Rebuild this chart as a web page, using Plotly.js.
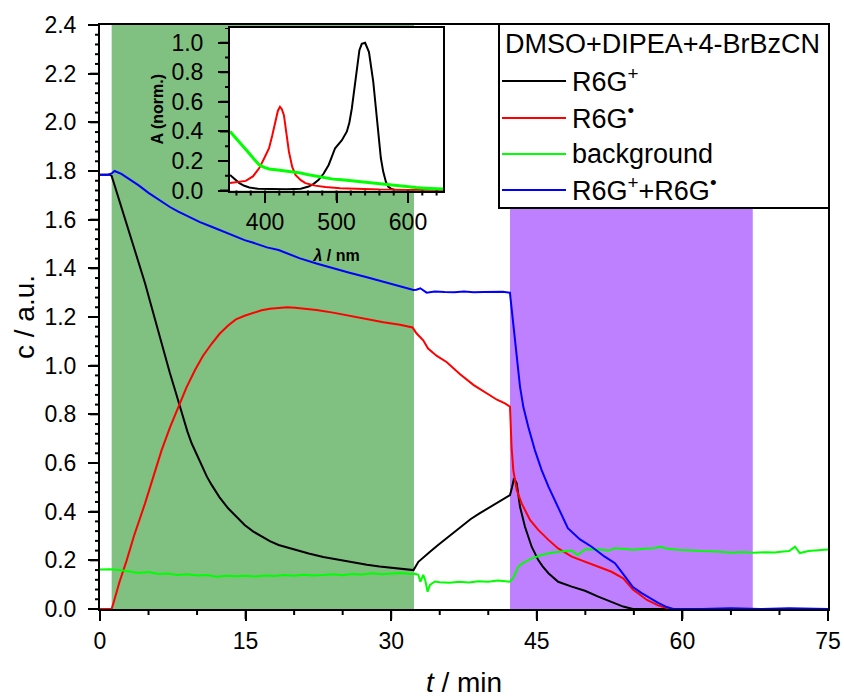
<!DOCTYPE html>
<html>
<head>
<meta charset="utf-8">
<script src="https://cdn.plot.ly/plotly-3.0.1.min.js"></script>
<style>
  html, body { margin: 0; padding: 0; background: #ffffff; }
  #chart { width: 844px; height: 698px; }
</style>
</head>
<body>
<div id="chart"></div>
<script>
// ---------- main kinetic traces: time (min) and concentration (a.u.) ----------
const tCation = [0, 0.5, 1.0, 1.2, 1.55, 2.0, 2.58, 3.1, 3.6, 4.1, 4.64, 5.15, 5.67, 6.2, 6.7, 7.2, 7.73, 8.41, 9.0, 9.44, 10.0, 10.5, 11.0, 11.5, 12.3, 13.2, 14.0, 14.9, 15.8, 16.65, 17.5, 18.4, 19.3, 20.1, 21.5, 23.0, 24.5, 26.0, 27.5, 28.8, 30.0, 31.2, 32.3, 32.8, 33.4, 34.0, 34.8, 35.7, 36.5, 37.4, 38.2, 39.1, 40.0, 40.9, 41.7, 42.24, 42.45, 42.65, 42.93, 43.27, 43.78, 44.47, 45.15, 45.6, 46.2, 47.2, 48.6, 49.96, 51.33, 52.7, 53.9, 54.9, 60, 65, 70, 75];
const cCation = [1.785, 1.785, 1.785, 1.78, 1.736, 1.67, 1.599, 1.54, 1.475, 1.41, 1.339, 1.265, 1.188, 1.11, 1.037, 0.97, 0.90, 0.804, 0.73, 0.681, 0.63, 0.585, 0.545, 0.51, 0.46, 0.414, 0.38, 0.345, 0.318, 0.297, 0.279, 0.263, 0.252, 0.242, 0.228, 0.214, 0.203, 0.193, 0.182, 0.175, 0.170, 0.165, 0.160, 0.194, 0.216, 0.235, 0.262, 0.29, 0.318, 0.345, 0.37, 0.393, 0.414, 0.434, 0.455, 0.468, 0.50, 0.537, 0.517, 0.42, 0.338, 0.256, 0.201, 0.175, 0.147, 0.112, 0.092, 0.075, 0.051, 0.030, 0.010, 0, 0, 0, 0, 0];

const tRadical = [0, 1.2, 1.5, 2.0, 2.75, 3.5, 4.64, 5.5, 6.35, 7.2, 8.07, 8.9, 9.79, 10.6, 11.5, 12.3, 13.2, 14.0, 14.9, 15.8, 16.65, 17.5, 18.4, 19.3, 20.1, 21.2, 22.3, 24.0, 25.75, 27.5, 29.2, 30.9, 32.2, 32.6, 33.3, 33.8, 34.7, 35.7, 37.1, 38.5, 39.7, 40.9, 41.72, 42.24, 42.4, 42.58, 42.93, 43.44, 44.3, 45.15, 46.2, 47.2, 48.6, 49.96, 51.33, 52.7, 53.9, 54.9, 56.35, 57.5, 58.4, 59.2, 65, 70, 75];
const cRadical = [0, 0, 0.04, 0.11, 0.20, 0.30, 0.434, 0.545, 0.653, 0.745, 0.831, 0.91, 0.982, 1.04, 1.09, 1.13, 1.165, 1.19, 1.205, 1.218, 1.228, 1.234, 1.238, 1.24, 1.238, 1.235, 1.229, 1.218, 1.204, 1.19, 1.178, 1.168, 1.157, 1.133, 1.104, 1.07, 1.04, 1.015, 0.965, 0.92, 0.89, 0.86, 0.845, 0.831, 0.667, 0.571, 0.489, 0.434, 0.366, 0.325, 0.284, 0.249, 0.215, 0.194, 0.174, 0.153, 0.126, 0.08, 0.037, 0.015, 0.004, 0, 0, 0, 0];

const tBackground = [0, 1, 2, 3, 4, 5, 6, 7, 8, 9, 10, 11, 12, 13, 14, 15, 16, 17, 18, 19, 20, 21, 22, 23, 24, 25, 26, 27, 28, 29, 30, 31, 32, 32.5, 32.8, 33.0, 33.3, 33.5, 33.75, 34.0, 34.5, 35, 36, 37, 38, 39, 40, 41, 42, 42.24, 42.6, 43.1, 43.6, 44.47, 45.5, 46.5, 47.56, 48.6, 49.2, 49.96, 51.33, 52.4, 53.05, 54.1, 55, 56, 57, 57.7, 58.5, 59.5, 60.1, 61, 62, 63.5, 64.5, 65.2, 66, 67.3, 68.5, 69.5, 70.4, 71, 71.6, 72.1, 73, 74, 75];
const cBackground = [0.162, 0.163, 0.16, 0.155, 0.148, 0.152, 0.144, 0.146, 0.14, 0.143, 0.138, 0.14, 0.133, 0.137, 0.135, 0.137, 0.134, 0.138, 0.136, 0.14, 0.137, 0.141, 0.138, 0.14, 0.143, 0.139, 0.144, 0.142, 0.147, 0.143, 0.146, 0.148, 0.144, 0.145, 0.14, 0.112, 0.14, 0.12, 0.071, 0.099, 0.113, 0.11, 0.108, 0.112, 0.109, 0.114, 0.112, 0.117, 0.113, 0.112, 0.13, 0.174, 0.19, 0.208, 0.222, 0.231, 0.236, 0.24, 0.222, 0.245, 0.246, 0.24, 0.25, 0.246, 0.244, 0.248, 0.25, 0.256, 0.248, 0.244, 0.242, 0.24, 0.238, 0.236, 0.232, 0.231, 0.234, 0.231, 0.233, 0.232, 0.236, 0.238, 0.256, 0.23, 0.238, 0.24, 0.245];

const tSum = [0, 0.8, 1.2, 1.5, 2.2, 3.0, 3.95, 5.0, 6.35, 7.2, 8.07, 9.0, 9.79, 10.3, 11.5, 12.5, 13.7, 14.9, 15.8, 17.2, 18.4, 19.3, 20.6, 22.3, 24.0, 25.7, 27.5, 29.2, 30.9, 32.3, 32.6, 33.0, 33.65, 34.5, 35.5, 36.5, 37.5, 38.5, 39.5, 40.5, 41.5, 42.23, 42.58, 42.93, 43.27, 43.61, 44.12, 44.8, 45.5, 46.2, 47.2, 48.2, 49.45, 50.65, 52.0, 53.05, 54.1, 54.9, 55.8, 56.65, 57.5, 58.4, 59.0, 62, 65, 68, 71, 75];
const cSum = [1.785, 1.785, 1.79, 1.80, 1.788, 1.768, 1.742, 1.71, 1.674, 1.652, 1.633, 1.615, 1.599, 1.59, 1.571, 1.555, 1.537, 1.516, 1.505, 1.486, 1.475, 1.462, 1.441, 1.42, 1.40, 1.382, 1.363, 1.345, 1.327, 1.311, 1.312, 1.318, 1.30, 1.305, 1.303, 1.302, 1.305, 1.302, 1.303, 1.302, 1.304, 1.30, 1.174, 1.037, 0.914, 0.831, 0.749, 0.653, 0.571, 0.503, 0.42, 0.332, 0.286, 0.256, 0.215, 0.188, 0.133, 0.09, 0.065, 0.045, 0.025, 0.008, 0, 0, 0.003, 0, 0.003, 0];

// irradiation periods (min)
const greenPeriod = [1.2, 32.35];
const purplePeriod = [42.24, 67.25];

// ---------- inset spectra: wavelength (nm) and normalised absorbance ----------
const lamCation = [351, 358, 364, 371, 378, 390, 410, 430, 450, 461, 468, 475, 482, 489, 498, 507.5, 514.5, 518, 521.4, 525, 528.4, 532, 535.3, 540, 545.4, 551.4, 555, 558.3, 562, 565.3, 569, 572.2, 577, 581, 590, 610, 649];
const absCation = [0.105, 0.075, 0.05, 0.032, 0.02, 0.012, 0.008, 0.008, 0.012, 0.027, 0.045, 0.072, 0.115, 0.173, 0.286, 0.34, 0.40, 0.46, 0.555, 0.70, 0.847, 0.95, 0.993, 1.0, 0.937, 0.735, 0.56, 0.375, 0.22, 0.128, 0.06, 0.027, 0.01, 0.005, 0.002, 0, 0];

const lamRadical = [351, 360, 373, 383, 391.7, 398, 405.6, 410, 414.9, 418, 420.9, 423.5, 426.4, 430, 433.4, 438, 442.6, 450, 456.5, 470, 484.3, 505, 530.5, 560, 600, 649];
const absRadical = [0.05, 0.055, 0.065, 0.095, 0.15, 0.21, 0.286, 0.37, 0.465, 0.54, 0.566, 0.55, 0.51, 0.39, 0.263, 0.16, 0.106, 0.07, 0.05, 0.033, 0.023, 0.015, 0.01, 0.006, 0.004, 0.003];

const lamBackground = [351, 357, 364, 371, 378, 385, 392, 398, 405.6, 415, 425, 438, 450, 461, 472, 484, 495, 507.5, 519, 530.5, 542, 553.6, 565, 577, 588, 600, 611, 623, 634, 646, 649];
const absBackground = [0.40, 0.365, 0.33, 0.29, 0.25, 0.21, 0.173, 0.158, 0.146, 0.14, 0.135, 0.128, 0.118, 0.106, 0.095, 0.083, 0.077, 0.072, 0.066, 0.061, 0.055, 0.05, 0.042, 0.034, 0.03, 0.027, 0.02, 0.016, 0.012, 0.01, 0.01];

const seriesNames = ['R6G<sup>+</sup>', 'R6G<sup>•</sup>', 'background', 'R6G<sup>+</sup>+R6G<sup>•</sup>'];
const seriesColors = ['#000000', '#ff0000', '#00ff00', '#0000ff'];
const legendTitle = 'DMSO+DIPEA+4-BrBzCN';

const FONT = 'Liberation Sans, Arial, Helvetica, sans-serif';

// plot area in page pixels
const PL = 100, PR = 828, PT = 25, PB = 609;
const PW = PR - PL, PH = PB - PT;
const px = v => (v - PL) / PW;
const py = v => (PB - v) / PH;
const INSET_X = [0.1786, 0.4712], INSET_Y = [0.7166, 0.9949];
const INSET_W = (INSET_X[1] - INSET_X[0]) * PW, INSET_H = (INSET_Y[1] - INSET_Y[0]) * PH;

const mainX = [tCation, tRadical, tBackground, tSum];
const mainY = [cCation, cRadical, cBackground, cSum];
const traces = [];
for (let i = 0; i < 4; i++) {
  traces.push({
    x: mainX[i], y: mainY[i], type: 'scatter', mode: 'lines',
    name: seriesNames[i], showlegend: false, line: {color: seriesColors[i], width: 2},
    xaxis: 'x', yaxis: 'y', hoverinfo: 'skip'
  });
}
const insetX = [lamCation, lamRadical, lamBackground];
const insetY = [absCation, absRadical, absBackground];
for (let i = 0; i < 3; i++) {
  traces.push({
    x: insetX[i], y: insetY[i], type: 'scatter', mode: 'lines',
    showlegend: false, line: {color: seriesColors[i], width: i === 2 ? 3 : 2},
    xaxis: 'x2', yaxis: 'y2', hoverinfo: 'skip'
  });
}

const axisCommon = {
  showline: true, linecolor: '#000', linewidth: 2, mirror: true,
  showgrid: false, zeroline: false,
  ticks: 'outside', ticklen: 10, tickwidth: 2, tickcolor: '#000',
  tickfont: {family: FONT, size: 23, color: '#000'}
};

const shapes = [
  {type: 'rect', xref: 'x', yref: 'y', x0: greenPeriod[0], x1: greenPeriod[1], y0: 0, y1: 2.4,
   fillcolor: '#80c080', line: {width: 0}, layer: 'below'},
  {type: 'rect', xref: 'x', yref: 'y', x0: purplePeriod[0], x1: purplePeriod[1], y0: 0, y1: 2.4,
   fillcolor: '#bf80ff', line: {width: 0}, layer: 'below'}
];

// tick marks (major and minor), laid along the axes through their own scales
const isMajor = (v, majorStep) => Math.abs(v / majorStep - Math.round(v / majorStep)) < 1e-6;
function xTicks(xref, yref, from, to, step, majorStep, lenMinor, lenMajor, heightPx) {
  const n = Math.round((to - from) / step);
  for (let i = 0; i <= n; i++) {
    const v = +(from + i * step).toFixed(6);
    const len = isMajor(v, majorStep) ? lenMajor : lenMinor;
    shapes.push({type: 'line', xref: xref, yref: yref + ' domain', x0: v, x1: v, y0: 0, y1: -len / heightPx,
      line: {color: '#000', width: 2}, layer: 'above'});
  }
}
function yTicks(xref, yref, from, to, step, majorStep, lenMinor, lenMajor, widthPx) {
  const n = Math.round((to - from) / step);
  for (let i = 0; i <= n; i++) {
    const v = +(from + i * step).toFixed(6);
    const len = isMajor(v, majorStep) ? lenMajor : lenMinor;
    shapes.push({type: 'line', xref: xref + ' domain', yref: yref, x0: 0, x1: -len / widthPx, y0: v, y1: v,
      line: {color: '#000', width: 2}, layer: 'above'});
  }
}
xTicks('x', 'y', 0, 75, 5, 15, 6, 10, PH);
yTicks('x', 'y', 0, 2.4, 0.04, 0.2, 5, 10, PW);
xTicks('x2', 'y2', 360, 640, 20, 100, 5, 10, INSET_H);
yTicks('x2', 'y2', 0, 1.1, 0.1, 0.2, 5, 10, INSET_W);

// legend (drawn by hand to match the long line samples of the original)
const legendRows = [81, 118, 154, 190];
shapes.push({type: 'rect', xref: 'paper', yref: 'paper', x0: px(499), x1: px(829), y0: py(208), y1: py(24),
  fillcolor: '#ffffff', line: {color: '#000', width: 2}, layer: 'above'});
const annotations = [
  {xref: 'paper', yref: 'paper', x: px(503), y: py(44), xanchor: 'left', yanchor: 'middle',
   text: legendTitle, showarrow: false, font: {family: FONT, size: 27, color: '#000'}}
];
for (let i = 0; i < 4; i++) {
  shapes.push({type: 'line', xref: 'paper', yref: 'paper', x0: px(502), x1: px(566),
    y0: py(legendRows[i]), y1: py(legendRows[i]), line: {color: seriesColors[i], width: 2}, layer: 'above'});
  annotations.push({xref: 'paper', yref: 'paper', x: px(570), y: py(legendRows[i] + (i === 2 ? 0 : -1)),
    xanchor: 'left', yanchor: 'middle', text: seriesNames[i], showarrow: false,
    font: {family: FONT, size: 27, color: '#000'}});
}

const layout = {
  width: 844, height: 698,
  margin: {l: 100, r: 16, t: 25, b: 89, pad: 0},
  paper_bgcolor: '#ffffff', plot_bgcolor: '#ffffff',
  font: {family: FONT, color: '#000'},
  showlegend: false,
  xaxis: Object.assign({}, axisCommon, {
    domain: [0, 1], range: [0, 75], tick0: 0, dtick: 15,
    title: {text: '<i>t</i> / min', font: {family: FONT, size: 28, color: '#000'}, standoff: 25},
    anchor: 'y'
  }),
  yaxis: Object.assign({}, axisCommon, {
    domain: [0, 1], range: [0, 2.4], tick0: 0, dtick: 0.2, tickformat: '.1f', ticklabelstandoff: 7,
    title: {text: 'c / a.u.', font: {family: FONT, size: 28, color: '#000'}, standoff: 2},
    anchor: 'x'
  }),
  xaxis2: Object.assign({}, axisCommon, {
    domain: INSET_X, range: [351, 649], tick0: 0, dtick: 100, ticklen: 10,
    title: {text: '<b><i>λ</i> / nm</b>', font: {family: FONT, size: 16, color: '#000'}, standoff: 16},
    anchor: 'y2'
  }),
  yaxis2: Object.assign({}, axisCommon, {
    domain: INSET_Y, range: [0, 1.1], tick0: 0, dtick: 0.2, tickformat: '.1f', ticklen: 10,
    ticklabelstandoff: 10,
    title: {text: '<b>A (norm.)</b>', font: {family: FONT, size: 16, color: '#000'}, standoff: 4},
    anchor: 'x2'
  }),
  shapes: shapes,
  annotations: annotations
};

Plotly.newPlot('chart', traces, layout, {displayModeBar: false, staticPlot: true});
</script>
</body>
</html>
